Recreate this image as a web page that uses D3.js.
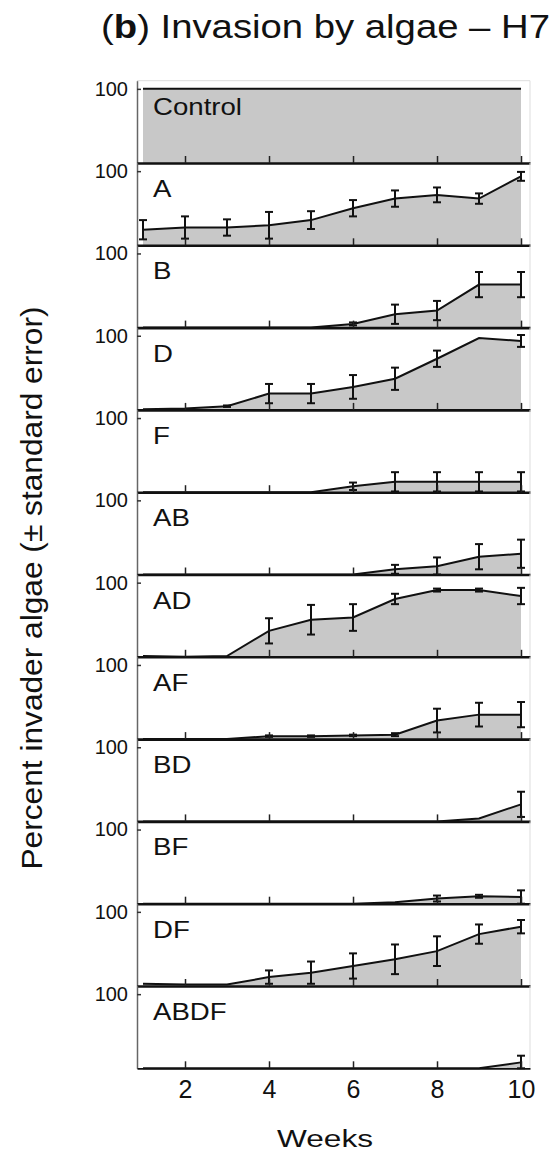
<!DOCTYPE html>
<html>
<head>
<meta charset="utf-8">
<script src="https://cdn.jsdelivr.net/npm/d3@7"></script>
<style>
body { margin: 0; background: #fff; }
svg { display: block; font-family: "Liberation Sans", Arial, Helvetica, sans-serif; }
</style>
</head>
<body>
<svg width="557" height="1159"></svg>
<script>
// weeks and panels
const weeks = [1, 2, 3, 4, 5, 6, 7, 8, 9, 10];
const xTicks = [2, 4, 6, 8, 10];
const treatments = ["Control", "A", "B", "D", "F", "AB", "AD", "AF", "BD", "BF", "DF", "ABDF"];

// mean percent cover of invader algae per week
const control = [100, 100, 100, 100, 100, 100, 100, 100, 100, 100];
const a    = [21, 24, 24, 27, 34, 50, 63, 68, 63, 93];
const b    = [0, 0, 0, 0, 0, 5, 18, 23, 58, 58];
const d    = [1, 2, 5, 22, 22, 31, 42, 69, 97, 93];
const f    = [0, 0, 0, 0, 0, 8, 14, 14, 14, 14];
const ab   = [0, 0, 0, 0, 0, 0, 7, 11, 24, 28];
const ad   = [1, 0, 1, 35, 50, 53, 78, 90, 90, 82];
const af   = [0, 0, 0, 4, 4, 5, 6, 25, 33, 33];
const bd   = [0, 0, 0, 0, 0, 0, 0, 0, 4, 23];
const bf   = [0, 0, 0, 0, 0, 0, 2, 7, 10, 9];
const df   = [3, 2, 2, 12, 18, 27, 36, 47, 70, 80];
const abdf = [0, 0, 0, 0, 0, 0, 0, 0, 0, 8];

// standard errors
const controlSe = [0, 0, 0, 0, 0, 0, 0, 0, 0, 0];
const aSe    = [13, 15, 11, 18, 12, 11, 11, 10, 7, 6];
const bSe    = [0, 0, 0, 0, 0, 2, 13, 13, 17, 17];
const dSe    = [0, 0, 1, 13, 13, 16, 15, 11, 0, 8];
const fSe    = [0, 0, 0, 0, 0, 5, 13, 13, 13, 13];
const abSe   = [0, 0, 0, 0, 0, 0, 6, 12, 17, 19];
const adSe   = [0, 0, 0, 17, 20, 18, 7, 2, 2, 11];
const afSe   = [0, 0, 0, 1, 1, 1, 2, 16, 16, 17];
const bdSe   = [0, 0, 0, 0, 0, 0, 0, 0, 0, 17];
const bfSe   = [0, 0, 0, 0, 0, 0, 0, 4, 2, 9];
const dfSe   = [0, 0, 0, 9, 15, 17, 20, 20, 13, 9];
const abdfSe = [0, 0, 0, 0, 0, 0, 0, 0, 0, 9];

const means = [control, a, b, d, f, ab, ad, af, bd, bf, df, abdf];
const errs  = [controlSe, aSe, bSe, dSe, fSe, abSe, adSe, afSe, bdSe, bfSe, dfSe, abdfSe];

const svg = d3.select("svg");

const top0 = 80.7,
      panelH = 82.3;

const x = d3.scaleLinear()
  .domain([0.857, 10.214])
  .range([137, 530]);

const fillCol = "#c8c8c8";

// stretch text horizontally, the original type is a bit wide
function stretch(sel, k) {
  sel.each(function() {
    const w = this.getComputedTextLength();
    d3.select(this)
      .attr("textLength", w * k)
      .attr("lengthAdjust", "spacingAndGlyphs");
  });
}

treatments.forEach((name, i) => {
  const top = top0 + i * panelH,
        bottom = top + panelH;
  const y = d3.scaleLinear().domain([0, 111]).range([bottom, top]);
  const rows = weeks.map((w, j) => ({week: w, mean: means[i][j], se: errs[i][j]}));

  let g = svg.append("g").attr("class", "panel");

  // faint box
  g.append("line")
    .attr("x1", x.range()[1]).attr("x2", x.range()[1])
    .attr("y1", top).attr("y2", bottom)
    .attr("stroke", "#ddd").attr("stroke-width", 1);
  if (i == 0) {
    g.append("line")
      .attr("x1", x.range()[0]).attr("x2", x.range()[1])
      .attr("y1", top).attr("y2", top)
      .attr("stroke", "#ddd").attr("stroke-width", 1);
  }

  const area = d3.area()
    .x(r => x(r.week))
    .y0(y(0))
    .y1(r => y(r.mean));
  const line = d3.line()
    .x(r => x(r.week))
    .y(r => y(r.mean));

  g.append("path")
    .datum(rows)
    .attr("d", area)
    .attr("fill", fillCol);

  g.append("path")
    .datum(rows)
    .attr("d", line)
    .attr("fill", "none")
    .attr("stroke", "#111")
    .attr("stroke-width", 2);

  // error bars
  const eb = g.append("g")
    .selectAll("g")
    .data(rows.filter(r => r.se > 0))
    .enter().append("g")
    .attr("stroke", "#111")
    .attr("stroke-width", 2);
  eb.append("line")
    .attr("x1", r => x(r.week)).attr("x2", r => x(r.week))
    .attr("y1", r => y(Math.max(0, r.mean - r.se)))
    .attr("y2", r => y(r.mean + r.se));
  eb.append("line")
    .attr("x1", r => x(r.week) - 4).attr("x2", r => x(r.week) + 4)
    .attr("y1", r => y(r.mean + r.se)).attr("y2", r => y(r.mean + r.se));
  eb.append("line")
    .attr("x1", r => x(r.week) - 4).attr("x2", r => x(r.week) + 4)
    .attr("y1", r => y(Math.max(0, r.mean - r.se))).attr("y2", r => y(Math.max(0, r.mean - r.se)));

  // left axis with the 100 tick
  let ya = g.append("g")
    .attr("transform", `translate(${x.range()[0]},0)`)
    .call(d3.axisLeft(y).tickValues([100]).tickSizeInner(-4).tickSizeOuter(0).tickPadding(9));
  ya.select(".domain").attr("stroke", "#666").attr("stroke-width", 1.5);
  ya.selectAll(".tick line").attr("stroke", "#333").attr("stroke-width", 1.5);
  ya.selectAll("text")
    .attr("font-size", 20)
    .attr("font-family", "Liberation Sans, Arial, sans-serif")
    .attr("fill", "#111");

  // bottom axis, ticks point inward
  const last = i == treatments.length - 1;
  let xa = g.append("g")
    .attr("transform", `translate(0,${bottom})`)
    .call(d3.axisBottom(x).tickValues(xTicks).tickSizeInner(-7).tickSizeOuter(0)
      .tickPadding(last ? 12 : 0)
      .tickFormat(v => last ? v : ""));
  xa.select(".domain").attr("stroke", "#111").attr("stroke-width", last ? 1.8 : 2.6);
  xa.selectAll(".tick line").attr("stroke", "#222").attr("stroke-width", 1.5);
  xa.selectAll("text")
    .attr("font-size", 25)
    .attr("font-family", "Liberation Sans, Arial, sans-serif")
    .attr("fill", "#111");

  // panel label
  g.append("text")
    .attr("x", 153)
    .attr("y", top + 34)
    .attr("font-size", 24)
    .attr("fill", "#111")
    .text(name)
    .call(stretch, 1.15);
});

// title
let title = svg.append("text")
  .attr("x", 101)
  .attr("y", 38)
  .attr("font-size", 33)
  .attr("fill", "#111")
  .attr("textLength", 449)
  .attr("lengthAdjust", "spacingAndGlyphs");
title.append("tspan").text("(");
title.append("tspan").attr("font-weight", "bold").text("b");
title.append("tspan").text(") Invasion by algae \u2013 H7");

// axis titles
svg.append("text")
  .attr("transform", "translate(42,588) rotate(-90)")
  .attr("text-anchor", "middle")
  .attr("font-size", 30)
  .attr("fill", "#111")
  .attr("textLength", 563)
  .attr("lengthAdjust", "spacingAndGlyphs")
  .text("Percent invader algae (\u00b1 standard error)");

svg.append("text")
  .attr("x", 325)
  .attr("y", 1147)
  .attr("text-anchor", "middle")
  .attr("font-size", 23)
  .attr("fill", "#111")
  .attr("textLength", 96)
  .attr("lengthAdjust", "spacingAndGlyphs")
  .text("Weeks");
</script>
</body>
</html>
